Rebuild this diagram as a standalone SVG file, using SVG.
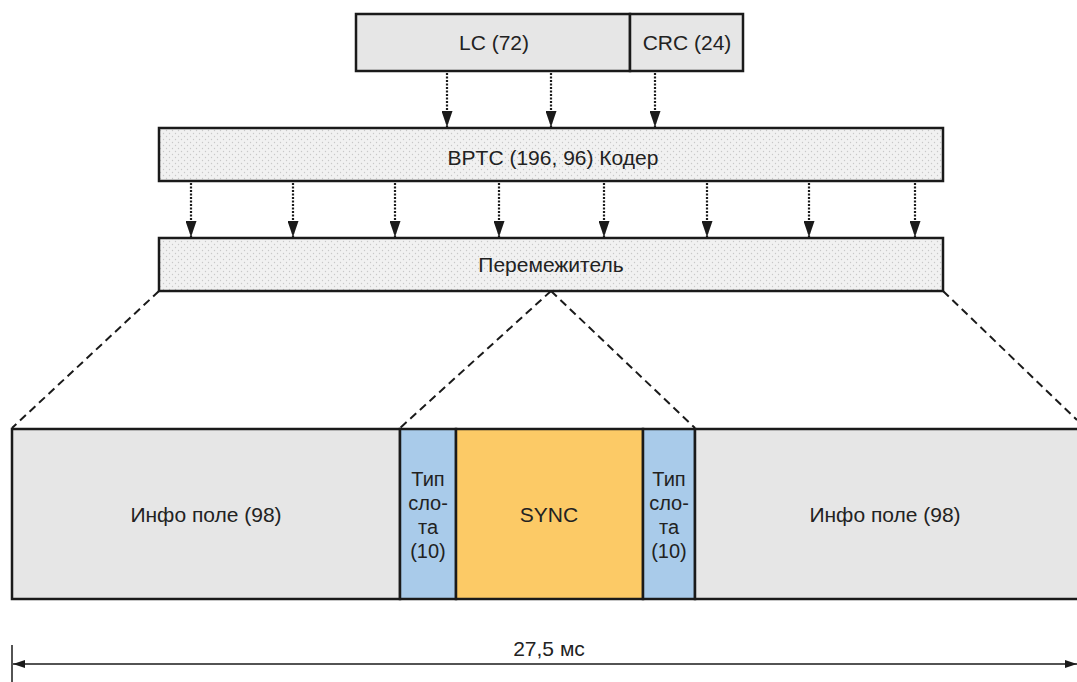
<svg xmlns="http://www.w3.org/2000/svg" width="1077" height="682" viewBox="0 0 1077 682">
<style>
text{font-family:"Liberation Sans",Arial,sans-serif;font-size:21px;fill:#222;text-anchor:middle}
.sl{font-size:20px}
.box{stroke:#1a1a1a;stroke-width:2.5}
.gray{fill:#e6e6e6}
.blue{fill:#a9cbea}
.sync{fill:#fcca66}
.dot{fill:url(#dots)}
.arr{stroke:#1a1a1a;stroke-width:2.2;stroke-dasharray:2 1.5;fill:none;marker-end:url(#ah)}
.dash{stroke:#1a1a1a;stroke-width:2;stroke-dasharray:8 5;fill:none}
.dim{stroke:#1a1a1a;stroke-width:1.5;fill:none}
</style>
<defs>
<pattern id="dots" width="6" height="6" patternUnits="userSpaceOnUse">
<rect width="6" height="6" fill="#f1f1f1"/>
<circle cx="1.5" cy="1.5" r="0.7" fill="#c8c8c8"/>
<circle cx="4.5" cy="4.5" r="0.7" fill="#c8c8c8"/>
</pattern>
<marker id="ah" markerWidth="16" markerHeight="11" refX="16" refY="5.5" orient="auto" markerUnits="userSpaceOnUse" viewBox="0 0 16 11">
<path d="M0,0 L16,5.5 L0,11 Z" fill="#1a1a1a"/>
</marker>
<marker id="dh" markerWidth="12" markerHeight="8" refX="12" refY="4" orient="auto-start-reverse" markerUnits="userSpaceOnUse">
<path d="M0,0 L12,4 L0,8 Z" fill="#1a1a1a"/>
</marker>
</defs>
<g id="connectors">
<line class="arr" x1="447" y1="73" x2="447" y2="127"/>
<line class="arr" x1="551" y1="73" x2="551" y2="127"/>
<line class="arr" x1="655" y1="73" x2="655" y2="127"/>
<line class="arr" x1="191" y1="183" x2="191" y2="237"/>
<line class="arr" x1="293" y1="183" x2="293" y2="237"/>
<line class="arr" x1="395" y1="183" x2="395" y2="237"/>
<line class="arr" x1="499" y1="183" x2="499" y2="237"/>
<line class="arr" x1="604" y1="183" x2="604" y2="237"/>
<line class="arr" x1="707" y1="183" x2="707" y2="237"/>
<line class="arr" x1="809" y1="183" x2="809" y2="237"/>
<line class="arr" x1="915" y1="183" x2="915" y2="237"/>
<line class="dash" x1="159" y1="291" x2="12" y2="428"/>
<line class="dash" x1="551" y1="291" x2="400" y2="428"/>
<line class="dash" x1="551" y1="291" x2="695" y2="428"/>
<line class="dash" x1="943" y1="291" x2="1077" y2="420"/>
</g>
<g id="lc"><rect class="box gray" x="356" y="14" width="274" height="57"/><text x="494" y="50">LC (72)</text></g>
<g id="crc"><rect class="box gray" x="630" y="14" width="113" height="57"/><text x="687" y="50">CRC (24)</text></g>
<g id="bptc"><rect class="box dot" x="159" y="128" width="784" height="53"/><text x="553" y="165">BPTC (196, 96) Кодер</text></g>
<g id="interleaver"><rect class="box dot" x="159" y="238" width="784" height="53"/><text x="551" y="272">Перемежитель</text></g>
<g id="info-left"><rect class="box gray" x="12" y="429" width="388" height="170"/><text x="206" y="522">Инфо поле (98)</text></g>
<g id="slot-left"><rect class="box blue" x="400" y="429" width="56" height="170"/>
<text class="sl" x="428" y="486">Тип</text><text class="sl" x="428" y="510">сло-</text><text class="sl" x="428" y="534">та</text><text class="sl" x="428" y="558">(10)</text></g>
<g id="sync"><rect class="box sync" x="456" y="429" width="187" height="170"/><text x="549" y="522">SYNC</text></g>
<g id="slot-right"><rect class="box blue" x="643" y="429" width="52" height="170"/>
<text class="sl" x="669" y="486">Тип</text><text class="sl" x="669" y="510">сло-</text><text class="sl" x="669" y="534">та</text><text class="sl" x="669" y="558">(10)</text></g>
<g id="info-right"><rect class="box gray" x="695" y="429" width="390" height="170"/><text x="885" y="522">Инфо поле (98)</text></g>
<g id="dimension">
<line class="dim" x1="12" y1="645" x2="12" y2="682"/>
<line class="dim" x1="13" y1="664" x2="1077" y2="664" marker-start="url(#dh)" marker-end="url(#dh)"/>
<text x="549" y="656">27,5 мс</text>
</g>
</svg>
